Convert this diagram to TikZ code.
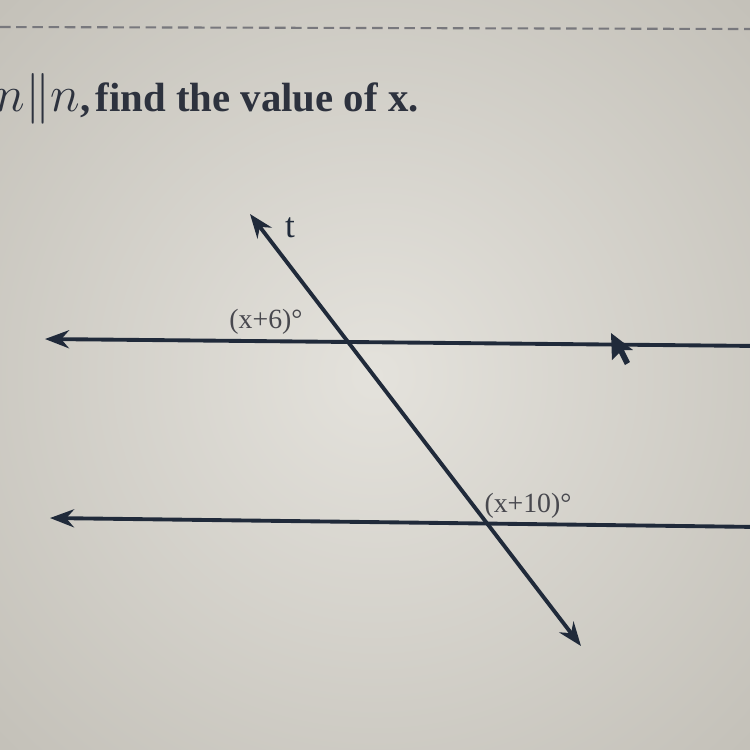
\documentclass[tikz,border=0pt]{standalone}
\usepackage{fontspec}
\setmainfont{Liberation Serif}
\usetikzlibrary{arrows.meta}
\definecolor{ink}{RGB}{32,42,58}
\definecolor{labelc}{RGB}{72,72,78}
\definecolor{titlec}{RGB}{45,50,62}
\definecolor{bgin}{RGB}{228,226,220}
\definecolor{bgout}{RGB}{196,193,185}
\definecolor{dashc}{RGB}{120,120,125}
\tikzset{
  geoline/.style={draw=ink, line width=1.1pt},
  anglelabel/.style={text=labelc, font=\fontsize{7.9}{9.5}\selectfont, inner sep=0pt},
  titletext/.style={text=titlec, font=\fontsize{11.6}{14}\selectfont\bfseries, inner sep=0pt},
}
\begin{document}
\begin{tikzpicture}[x=0.01cm,y=-0.01cm]
\useasboundingbox (0,0) rectangle (750,750);
\clip (0,0) rectangle (750,750);
\shade[inner color=bgin, outer color=bgout] (-150,-150) rectangle (900,900);
% dashed rule at top
\draw[dashc, line width=0.6pt, dash pattern=on 3pt off 1.6pt] (0,27) -- (750,29);
% title
\node[titletext, anchor=base east] (ttl1) at (91,111) {{\fontsize{14}{16}\selectfont$n\|n$},};
\node[titletext, anchor=base west] (ttl2) at (95,111) {find the value of x.};
% line ends
\coordinate (mL) at (45,339);
\coordinate (mR) at (760,346);
\coordinate (nL) at (50,518);
\coordinate (nR) at (760,527);
\coordinate (tT) at (250,214);
\coordinate (tB) at (581,646);
\draw[geoline, {Stealth[length=2.4mm,width=1.8mm]}-] (mL) -- (mR);
\draw[geoline, {Stealth[length=2.4mm,width=1.8mm]}-] (nL) -- (nR);
\draw[geoline, {Stealth[length=2.4mm,width=1.8mm]}-{Stealth[length=2.4mm,width=1.8mm]}] (tT) -- (tB);
% labels
\node[anglelabel, text=ink, font=\fontsize{10}{12}\selectfont] (tlab) at (290,228) {t};
\node[anglelabel] (a1) at (266,322) {(x+6)°};
\node[anglelabel] (a2) at (528,506) {(x+10)°};
% mouse pointer
\fill[ink] (611,333) -- (612,360) -- (619,353) -- (625,365) -- (630,362) -- (624,350) -- (633,350) -- cycle;
\end{tikzpicture}
\end{document}
